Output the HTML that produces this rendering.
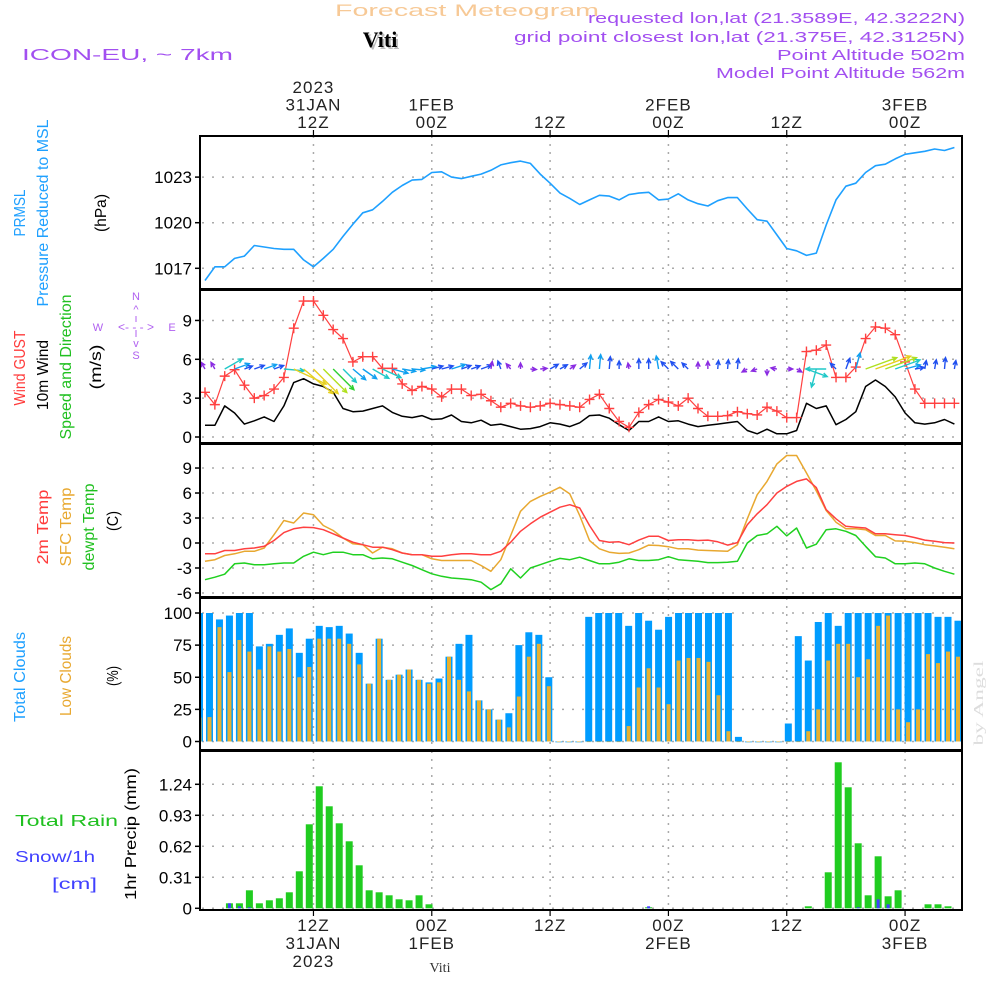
<!DOCTYPE html>
<html><head><meta charset="utf-8"><title>Forecast Meteogram - Viti</title>
<style>
html,body{margin:0;padding:0;background:#fff;}
svg{display:block;font-family:"Liberation Sans",sans-serif;}
</style></head>
<body>
<svg id="chart" xmlns="http://www.w3.org/2000/svg" width="1000" height="1000" viewBox="0 0 1000 1000">
<defs>
<clipPath id="c1"><rect x="201" y="137" width="760" height="152"/></clipPath>
<clipPath id="c2"><rect x="201" y="291" width="760" height="151"/></clipPath>
<clipPath id="c3"><rect x="201" y="446" width="760" height="150"/></clipPath>
<clipPath id="c4"><rect x="201" y="600" width="760" height="149"/></clipPath>
<clipPath id="c5"><rect x="201" y="753" width="760" height="156"/></clipPath>
</defs>
<rect x="0" y="0" width="1000" height="1000" fill="#fff"/>
<!-- header -->
<text x="467" y="16" text-anchor="middle" font-size="17" fill="#f7c996" textLength="264" lengthAdjust="spacingAndGlyphs">Forecast Meteogram</text>
<text x="382" y="49" text-anchor="middle" font-size="22" font-weight="bold" font-family="Liberation Serif,serif" fill="#bbb">Viti</text>
<text x="380" y="47" text-anchor="middle" font-size="22" font-weight="bold" font-family="Liberation Serif,serif" fill="#000">Viti</text>
<text x="22" y="60" font-size="16" fill="#a24ff0" textLength="211" lengthAdjust="spacingAndGlyphs">ICON-EU, ~ 7km</text>
<text x="965" y="23" text-anchor="end" font-size="15" fill="#a24ff0" textLength="377" lengthAdjust="spacingAndGlyphs">requested lon,lat (21.3589E, 42.3222N)</text>
<text x="965" y="42" text-anchor="end" font-size="15" fill="#a24ff0" textLength="451" lengthAdjust="spacingAndGlyphs">grid point closest lon,lat (21.375E, 42.3125N)</text>
<text x="965" y="60" text-anchor="end" font-size="15" fill="#a24ff0" textLength="188" lengthAdjust="spacingAndGlyphs">Point Altitude 502m</text>
<text x="965" y="78" text-anchor="end" font-size="15" fill="#a24ff0" textLength="249" lengthAdjust="spacingAndGlyphs">Model Point Altitude 562m</text>

<!-- left labels -->
<g>
<text transform="translate(25,213) rotate(-90)" text-anchor="middle" font-size="16" fill="#1ea0ff" textLength="47" lengthAdjust="spacingAndGlyphs">PRMSL</text>
<text transform="translate(48,213) rotate(-90)" text-anchor="middle" font-size="16" fill="#1ea0ff" textLength="187" lengthAdjust="spacingAndGlyphs">Pressure Reduced to MSL</text>
<text transform="translate(106,213) rotate(-90)" text-anchor="middle" font-size="16" fill="#000" textLength="38" lengthAdjust="spacingAndGlyphs">(hPa)</text>
</g>
<g>
<text transform="translate(25,368) rotate(-90)" text-anchor="middle" font-size="16" fill="#ff3b3b" textLength="75" lengthAdjust="spacingAndGlyphs">Wind GUST</text>
<text transform="translate(48,375) rotate(-90)" text-anchor="middle" font-size="16" fill="#000" textLength="70" lengthAdjust="spacingAndGlyphs">10m Wind</text>
<text transform="translate(71,367) rotate(-90)" text-anchor="middle" font-size="16" fill="#20c020" textLength="145" lengthAdjust="spacingAndGlyphs">Speed and Direction</text>
<text transform="translate(101,367) rotate(-90)" text-anchor="middle" font-size="16" fill="#000" textLength="45" lengthAdjust="spacingAndGlyphs">(m/s)</text>
</g>
<g fill="#b060f0" font-size="11" text-anchor="middle">
<text x="136" y="300">N</text>
<text x="136" y="313">^</text>
<line x1="136" y1="316" x2="136" y2="322" stroke="#b060f0" stroke-width="1"/>
<line x1="136" y1="330" x2="136" y2="337" stroke="#b060f0" stroke-width="1"/>
<text x="98" y="331">W</text>
<text x="172" y="331">E</text>
<text x="136" y="331" font-size="12">&lt;- - - &gt;</text>
<text x="136" y="347">v</text>
<text x="136" y="359">S</text>
</g>
<g>
<text transform="translate(48,527) rotate(-90)" text-anchor="middle" font-size="16" fill="#ff3b3b" textLength="75" lengthAdjust="spacingAndGlyphs">2m Temp</text>
<text transform="translate(71,527) rotate(-90)" text-anchor="middle" font-size="16" fill="#e8a830" textLength="79" lengthAdjust="spacingAndGlyphs">SFC Temp</text>
<text transform="translate(94,527) rotate(-90)" text-anchor="middle" font-size="16" fill="#20c020" textLength="87" lengthAdjust="spacingAndGlyphs">dewpt Temp</text>
<text transform="translate(118,521) rotate(-90)" text-anchor="middle" font-size="16" fill="#000" textLength="20" lengthAdjust="spacingAndGlyphs">(C)</text>
</g>
<g>
<text transform="translate(25,677) rotate(-90)" text-anchor="middle" font-size="16" fill="#1ea0ff" textLength="90" lengthAdjust="spacingAndGlyphs">Total Clouds</text>
<text transform="translate(71,676) rotate(-90)" text-anchor="middle" font-size="16" fill="#e8a830" textLength="80" lengthAdjust="spacingAndGlyphs">Low Clouds</text>
<text transform="translate(118,676) rotate(-90)" text-anchor="middle" font-size="16" fill="#000" textLength="20" lengthAdjust="spacingAndGlyphs">(%)</text>
</g>
<g>
<text x="15" y="826" font-size="16" fill="#20c020" textLength="103" lengthAdjust="spacingAndGlyphs">Total   Rain</text>
<text x="15" y="862" font-size="16" fill="#4040ff" textLength="80" lengthAdjust="spacingAndGlyphs">Snow/1h</text>
<text x="52" y="889" font-size="16" fill="#4040ff" textLength="45" lengthAdjust="spacingAndGlyphs">[cm]</text>
<text transform="translate(136,834) rotate(-90)" text-anchor="middle" font-size="16" fill="#000" textLength="132" lengthAdjust="spacingAndGlyphs">1hr Precip (mm)</text>
</g>
<text transform="translate(983,703) rotate(-90)" text-anchor="middle" font-size="14" fill="#ddd" font-family="Liberation Serif,serif" textLength="85" lengthAdjust="spacingAndGlyphs">by Angel</text>
<text x="440" y="972" text-anchor="middle" font-size="14" fill="#333" font-family="Liberation Serif,serif">Viti</text>

<g id="grid"></g>
<g id="series"></g>
<g id="axes"></g>
</svg>
<script>
// ---- data (hourly, index 0 = 01Z 31 JAN 2023) ----
const pressure = [1016.2,1017.1,1017.1,1017.65,1017.8,1018.5,1018.4,1018.3,1018.25,1018.25,
1017.55,1017.1,1017.65,1018.25,1019.1,1019.9,1020.65,1020.85,1021.4,1022.0,
1022.45,1022.8,1022.85,1023.3,1023.35,1023.0,1022.9,1023.05,1023.2,1023.45,
1023.8,1023.95,1024.05,1023.9,1023.2,1022.6,1021.95,1021.6,1021.2,1021.5,
1021.8,1021.75,1021.5,1021.85,1021.95,1022.0,1021.5,1021.55,1021.9,1021.5,
1021.25,1021.1,1021.45,1021.65,1021.65,1020.9,1020.2,1020.1,1019.2,1018.3,
1018.15,1017.85,1018.0,1019.85,1021.5,1022.4,1022.6,1023.3,1023.75,1023.85,
1024.2,1024.5,1024.6,1024.7,1024.85,1024.75,1024.95];
const windGust = [3.45,2.5,4.7,5.2,4.0,3.0,3.2,3.7,4.6,8.4,
10.5,10.5,9.4,8.3,7.6,5.8,6.2,6.2,5.3,5.3,
4.1,3.6,3.9,3.7,3.1,3.7,3.7,3.2,3.3,2.8,
2.3,2.6,2.4,2.3,2.4,2.6,2.5,2.4,2.3,2.9,
3.3,2.2,1.2,0.75,1.9,2.5,2.9,2.7,2.4,3.0,
2.2,1.6,1.6,1.65,1.95,1.8,1.7,2.3,2.0,1.5,
1.5,6.6,6.7,7.1,4.6,4.6,5.4,7.6,8.5,8.4,
7.9,5.8,3.7,2.6,2.6,2.6,2.6];
const windSpeed = [0.9,0.9,2.4,1.85,1.0,1.25,1.55,1.2,2.4,4.2,
4.5,4.1,3.9,3.45,2.2,1.95,2.0,2.2,2.4,1.9,
1.6,1.5,1.65,1.35,1.4,1.7,1.2,1.1,1.3,0.9,
1.0,0.8,0.6,0.65,0.8,1.1,1.0,0.8,1.1,1.65,
1.7,1.45,0.95,0.5,1.2,1.2,1.55,1.2,1.25,1.0,
0.8,0.9,1.0,1.1,1.2,0.5,0.25,0.6,0.25,0.25,
0.5,2.6,2.2,2.4,0.95,1.35,1.95,3.9,4.4,3.9,
3.1,1.85,1.1,1.0,1.1,1.35,1.0];
const windToward = [330,330,60,70,70,70,70,70,95,115,
130,135,135,135,135,130,125,120,115,105,
100,95,80,75,75,72,70,70,70,10,
340,320,0,95,85,60,60,55,50,5,
5,5,0,350,0,0,350,315,315,315,
0,0,5,5,5,240,250,180,280,90,
120,110,195,270,315,20,15,70,70,70,
70,75,80,10,10,5,10];
const temp2m = [-1.3,-1.3,-0.9,-0.9,-0.7,-0.6,-0.4,0.3,1.25,1.7,
1.9,1.85,1.6,1.1,0.6,0.1,-0.2,-0.5,-0.5,-0.8,
-1.2,-1.4,-1.4,-1.6,-1.6,-1.4,-1.3,-1.3,-1.4,-1.4,
-1.0,0.1,1.4,2.3,3.1,3.7,4.3,4.6,4.2,2.1,
0.3,0.1,0.15,-0.2,0.35,0.8,0.8,0.3,0.4,0.4,
0.3,0.35,0.15,-0.25,0.05,2.2,3.5,4.6,6.0,6.8,
7.4,7.7,6.65,4.0,2.9,2.0,1.9,1.8,1.1,1.1,
1.0,0.9,0.65,0.35,0.2,0.05,0];
const tempSfc = [-2.2,-2.0,-1.5,-1.3,-1.0,-1.0,-0.6,1.0,2.7,2.4,
3.6,3.4,2.1,1.5,0.6,-0.1,-0.2,-1.2,-0.5,-0.7,
-1.2,-1.4,-1.4,-1.9,-2.1,-2.1,-2.1,-2.1,-2.7,-3.4,
-2.0,0.9,3.8,5.0,5.6,6.1,6.7,5.9,3.3,0.3,
-0.7,-1.1,-1.25,-1.2,-0.8,-0.25,-0.3,-0.45,-0.7,-0.7,
-0.85,-0.9,-0.95,-1.0,-0.2,2.9,5.8,7.4,9.5,10.5,
10.5,8.4,6.25,3.9,2.5,1.7,1.7,1.6,0.9,0.9,
0.25,0.2,0.05,-0.2,-0.35,-0.5,-0.7];
const dewpoint = [-4.4,-4.1,-3.75,-2.5,-2.4,-2.6,-2.6,-2.5,-2.4,-2.4,
-1.6,-1.1,-1.4,-1.1,-1.1,-1.4,-1.4,-1.9,-1.8,-1.9,
-2.3,-2.7,-3.2,-3.7,-4.0,-4.2,-4.3,-4.4,-4.7,-5.6,
-4.9,-3.1,-4.2,-3.0,-2.6,-2.2,-1.85,-2.0,-1.7,-2.1,
-2.5,-2.5,-2.3,-1.9,-2.1,-2.1,-2.0,-1.65,-2.0,-2.1,
-2.2,-2.35,-2.35,-2.3,-2.2,0,0.9,1.1,2.0,0.85,
1.8,-0.6,-0.15,1.6,1.7,1.4,0.9,-0.4,-1.65,-1.8,
-2.5,-2.5,-2.4,-2.5,-3.0,-3.4,-3.75];
const totalClouds = [100,100,95,98,100,100,74,76,83,88,
69,80,90,89,90,84,69,45,80,48,
52,56,48,46,49,66,76,83,32,25,
17,22,75,85,83,50,0,0,0,97,
100,100,100,90,100,94,87,97,100,100,
100,100,100,100,3.6,0,0,0,0,14,
82,63,93,100,90,100,100,100,100,100,
100,100,100,100,97,97,94];
const lowClouds = [18.6,19,89,54,79,70,56,74,70,72,
50,58,80,80,80,76,60,45,80,48,
52,56,48,45,46,66,48,39,32,25,
17,11,35,66,76,43,0,0,0,0,
0,0,0,12,42,57,42,29,63,65,
65,62,36,8,0,0,0,0,0,0,
0,8,25,63,76,76,50,64,90,98,
25,15,25,68,61,70,66];
const rain = [0,0,0,0.05,0.05,0.18,0.05,0.08,0.10,0.16,
0.37,0.84,1.22,1.02,0.85,0.67,0.43,0.18,0.16,0.13,
0.09,0.08,0.13,0.04,0,0,0,0,0,0,
0,0,0,0,0,0,0,0,0,0,
0,0,0,0,0,0.01,0,0,0,0,
0,0,0,0,0,0,0,0,0,0,
0,0.02,0,0.36,1.46,1.21,0.65,0.13,0.52,0.12,
0.18,0,0,0.04,0.04,0.02,0];
const snow = [0,0,0,0.05,0.02,0.01,0,0,0,0,
0,0,0,0,0,0,0,0,0,0,
0,0,0,0,0,0,0,0,0,0,
0,0,0,0,0,0,0,0,0,0,
0,0,0,0,0,0.02,0,0,0,0,
0,0,0,0,0,0,0,0,0,0,
0,0,0,0,0,0,0.01,0,0.09,0.04,
0,0,0,0,0,0,0];
const pressureTicks = [1017,1020,1023];
const windTicks = [0,3,6,9];
const tempTicks = [-6,-3,0,3,6,9];
const cloudTicks = [0,25,50,75,100];
const precipTicks = [0,0.31,0.62,0.93,1.24];
const timeHours = [11,23,35,47,59,71];   // hour index of 12Z 31JAN, 00Z 1FEB, ...
const topLabels = [["2023","31JAN","12Z"],["1FEB","00Z"],["12Z"],["2FEB","00Z"],["12Z"],["3FEB","00Z"]];
const bottomLabels = [["12Z","31JAN","2023"],["00Z","1FEB"],["12Z"],["00Z","2FEB"],["12Z"],["00Z","3FEB"]];

// ---- scales ----
const NS = "http://www.w3.org/2000/svg";
const X0 = 200, X1 = 962;
const xl = h => 205 + 9.86 * h;          // line series
const xb = h => 199.5 + 9.98 * h;        // bar series
const xt = h => 205 + 9.86 * h;          // time grid
const yP = p => 268.3 - (p - 1017) * 15.2;
const yW = v => 437 - v * 12.95;
const yT = t => 543 - t * 8.33;
const yC = c => 741.5 - c * 1.285;
const yR = r => 908.3 - r * 100;
const panels = [[136,289,'c1'],[290,443,'c2'],[444,597,'c3'],[598,750,'c4'],[751,910,'c5']];

function mk(tag, attrs, parent) {
  const e = document.createElementNS(NS, tag);
  for (const k in attrs) e.setAttribute(k, attrs[k]);
  parent.appendChild(e);
  return e;
}
const grid = document.getElementById('grid');
const series = document.getElementById('series');
const axes = document.getElementById('axes');

// ---- grid ----
panels.forEach(([t,b], pi) => {
  timeHours.forEach(h => {
    const g = mk('line', {x1: xt(h), x2: xt(h), y1: t, y2: b, stroke: '#aaa', 'stroke-width': 1.5, 'stroke-dasharray': '2,6'}, grid);
    
    
  });
});
function hgrid(ticks, ys, pi, fmt) {
  ticks.forEach(v => {
    const y = ys(v);
    const g = mk('line', {x1: X0 + 2, x2: X1, y1: y, y2: y, stroke: '#aaa', 'stroke-width': 1.5, 'stroke-dasharray': '2,8'}, grid);
    
    
    const tk = mk('line', {x1: X0 - 5, x2: X0, y1: y, y2: y, stroke: '#000', 'stroke-width': 1.5}, axes);
    
    
    const tx = mk('text', {x: 192, y: y + 6, 'text-anchor': 'end', 'font-size': 17, fill: '#000'}, axes);
    
    
    tx.textContent = fmt ? fmt(v) : String(v);
  });
}
hgrid(pressureTicks, yP, 0);
hgrid(windTicks, yW, 1);
hgrid(tempTicks, yT, 2);
hgrid(cloudTicks, yC, 3);
hgrid(precipTicks, yR, 4, v => v === 0 ? '0' : v.toFixed(2));

// ---- series ----
function clipG(id, name) {
  const g = mk('g', {'clip-path': 'url(#' + id + ')'}, series);
  
  
  return g;
}
function polyline(arr, ys, color, g, name, w) {
  const pts = arr.map((v, i) => xl(i).toFixed(1) + ',' + ys(v).toFixed(1)).join(' ');
  const p = mk('polyline', {points: pts, fill: 'none', stroke: color, 'stroke-width': w || 1.5, 'stroke-linejoin': 'round'}, g);
  
  
  return p;
}
// pressure
const gP = clipG('c1', 'pressure-panel');
polyline(pressure, yP, '#1ea0ff', gP, 'pressure-line', 1.6);

// wind
const gW = clipG('c2', 'wind-panel');
polyline(windSpeed, yW, '#000', gW, 'wind-speed-line', 1.5);
polyline(windGust, yW, '#ff4040', gW, 'wind-gust-line', 1.2);
windGust.forEach((v, i) => {
  const x = xl(i), y = yW(v);
  const m = mk('path', {d: `M${x-5},${y}H${x+5}M${x},${y-5}V${y+5}`, stroke: '#ff4040', 'stroke-width': 1.4}, gW);
  
  
});
function windColor(s) {
  if (s >= 4.0) return '#e6d020';
  if (s >= 3.7) return '#b0e020';
  if (s >= 3.3) return '#30d030';
  if (s >= 2.2) return '#20c8c8';
  if (s >= 1.5) return '#10a0f0';
  if (s >= 0.95) return '#2050f0';
  return '#8a2be2';
}
windToward.forEach((deg, i) => {
  const s = windSpeed[i];
  const len = Math.max(6, s * 8.5);
  const a = deg * Math.PI / 180;
  const x0 = xl(i), y0 = 369;
  const x1 = x0 + Math.sin(a) * len, y1 = y0 - Math.cos(a) * len;
  const hl = 5, ha = 0.45;
  const bx = -Math.sin(a), by = Math.cos(a);
  const hx1 = x1 + hl * (bx * Math.cos(ha) - by * Math.sin(ha));
  const hy1 = y1 + hl * (bx * Math.sin(ha) + by * Math.cos(ha));
  const hx2 = x1 + hl * (bx * Math.cos(-ha) - by * Math.sin(-ha));
  const hy2 = y1 + hl * (bx * Math.sin(-ha) + by * Math.cos(-ha));
  const c = windColor(s);
  const ar = mk('path', {d: `M${x0},${y0}L${x1},${y1}M${hx1},${hy1}L${x1},${y1}L${hx2},${hy2}`, stroke: c, 'stroke-width': 1.4, fill: 'none'}, gW);
  
  
});

// temperature
const gT = clipG('c3', 'temperature-panel');
polyline(dewpoint, yT, '#20d020', gT, 'dewpoint-line', 1.5);
polyline(tempSfc, yT, '#e8a830', gT, 'sfc-temp-line', 1.5);
polyline(temp2m, yT, '#ff4040', gT, 'temp-2m-line', 1.5);

// clouds
const gC = clipG('c4', 'clouds-panel');
totalClouds.forEach((v, i) => {
  const x = xb(i), y = yC(v);
  const r = mk('rect', {x: x - 3.5, y: y, width: 7, height: Math.max(0.8, yC(0) - y), fill: '#009cff'}, gC);
  
  
});
lowClouds.forEach((v, i) => {
  const x = xb(i), y = yC(v);
  const r = mk('rect', {x: x - 2, y: y, width: 4, height: Math.max(0.6, yC(0) - y), fill: '#e8b030'}, gC);
  
  
});

// precip
const gR = clipG('c5', 'precip-panel');
rain.forEach((v, i) => {
  if (v <= 0) return;
  const x = xb(i), y = yR(v);
  const r = mk('rect', {x: x - 3.5, y: y, width: 7, height: yR(0) - y, fill: '#20cc20'}, gR);
  
  
});
snow.forEach((v, i) => {
  if (v <= 0) return;
  const x = xb(i), y = yR(v);
  const r = mk('rect', {x: x - 1.5, y: y, width: 3, height: yR(0) - y, fill: '#4040ff'}, gR);
  
  
});

// ---- panel frames ----
panels.forEach(([t,b], pi) => {
  const f = mk('rect', {x: X0, y: t, width: X1 - X0, height: b - t, fill: 'none', stroke: '#000', 'stroke-width': 2}, axes);
  
  
});

// ---- time axis labels ----
timeHours.forEach((h, k) => {
  const x = xt(h);
  const tt = mk('line', {x1: x, x2: x, y1: 130, y2: 136, stroke: '#000', 'stroke-width': 1.2}, axes);
  
  
  const bt = mk('line', {x1: x, x2: x, y1: 910, y2: 916, stroke: '#000', 'stroke-width': 1.2}, axes);
  
  
  const top = topLabels[k];
  top.forEach((s, j) => {
    const y = 128 - (top.length - 1 - j) * 17.5;
    const t = mk('text', {x: x, y: y, 'text-anchor': 'middle', 'font-size': 17, fill: '#222', 'letter-spacing': 1}, axes);
    
    
    t.textContent = s;
  });
  bottomLabels[k].forEach((s, j) => {
    const y = 931 + j * 18;
    const t = mk('text', {x: x, y: y, 'text-anchor': 'middle', 'font-size': 17, fill: '#222', 'letter-spacing': 1}, axes);
    
    
    t.textContent = s;
  });
});
</script>
</body></html>
